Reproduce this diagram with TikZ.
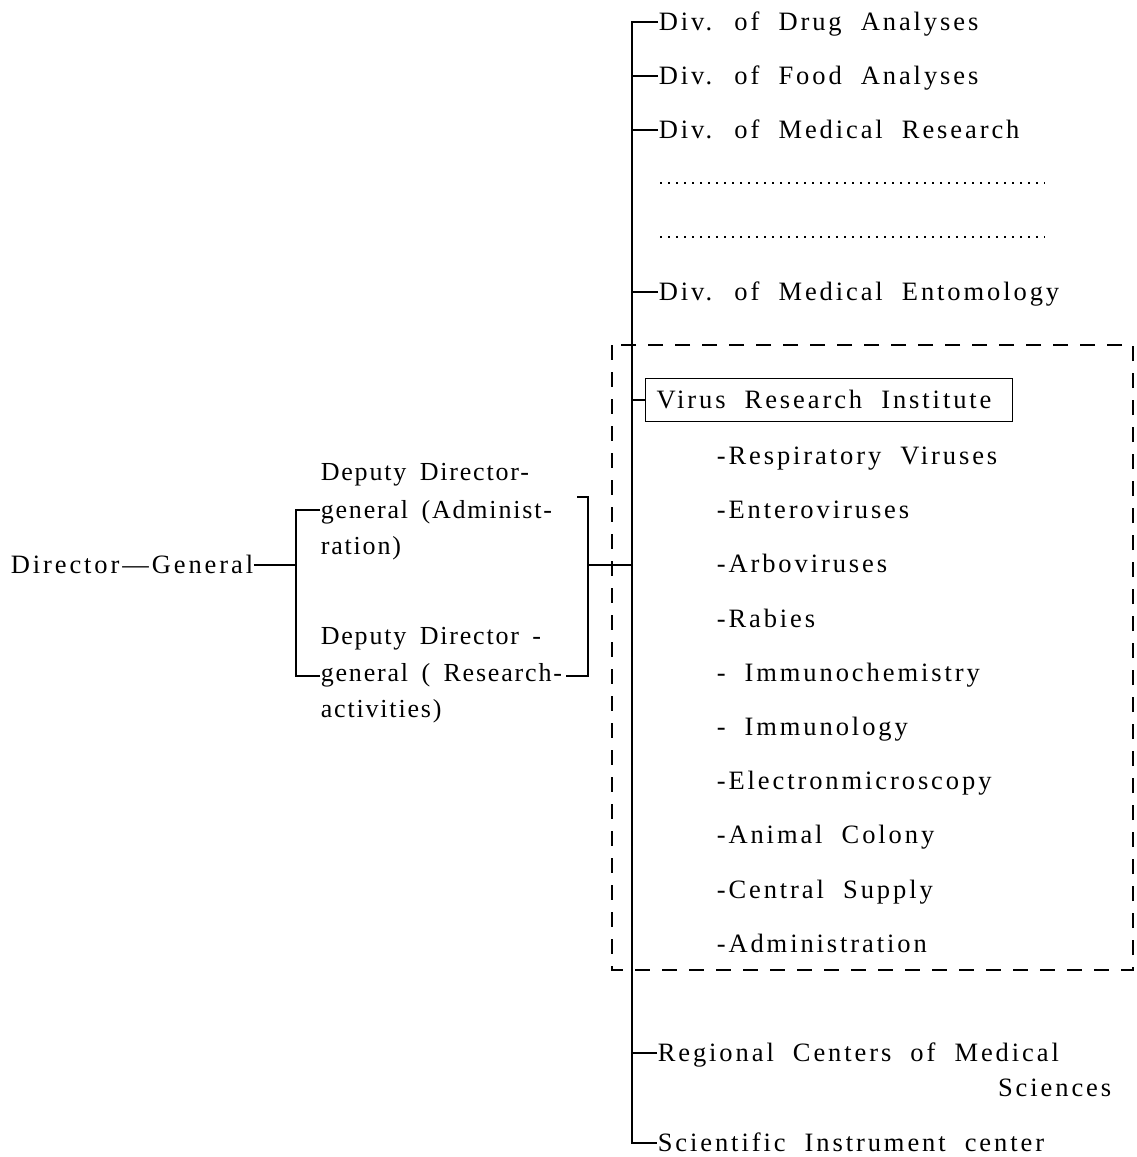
\documentclass[tikz,border=0pt]{standalone}
\usepackage{fontspec}
\setmainfont{Liberation Serif}[LetterSpace=11, WordSpace=2]
\newfontfamily\depfont{Liberation Serif}[LetterSpace=7, WordSpace=1.6]
\usepackage{tikz}
\tikzset{every picture/.append style={x=1pt, y=-1pt, line width=1.6pt}}
\tikzset{
    lbl/.style={anchor=west, inner sep=0pt, font=\fontsize{26.5}{37}\selectfont,
        text height=17pt, text depth=0pt},
    dep/.style={lbl, font=\depfont\fontsize{26}{37}\selectfont},
    boxed/.style={lbl, draw, line width=1.4pt, inner xsep=11pt, inner ysep=13pt},
    dashbox/.style={dashed, line width=1.5pt, dash pattern=on 15pt off 12pt},
    leader/.style={line width=2.4pt, dash pattern=on 2pt off 6pt}
}

\begin{document}
\begin{tikzpicture}
  \useasboundingbox (0,0) rectangle (1136,1157);
  % left side
  \node (dg) [lbl] at (10, 565) {Director---General};
  \node (dep_a1) [dep] at (320, 472) {Deputy Director-};
  \node (dep_a2) [dep] at (320, 510) {general (Administ-};
  \node (dep_a3) [dep] at (320, 546) {ration)};
  \node (dep_r1) [dep] at (320, 636) {Deputy Director -};
  \node (dep_r2) [dep] at (320, 673) {general ( Research-};
  \node (dep_r3) [dep] at (320, 709) {activities)};
  \coordinate (l_top) at (296, 510);
  \coordinate (l_bot) at (296, 676);
  \coordinate (l_mid) at (296, 565);
  \coordinate (r_ta) at (577, 497);
  \coordinate (r_top) at (588, 497);
  \coordinate (r_bot) at (588, 676);
  \coordinate (r_ba) at (566, 676);
  \coordinate (r_mid) at (588, 565);

  % divisions
  \node (drug) [lbl] at (658, 22) {Div. of Drug Analyses};
  \node (food) [lbl] at (658, 76) {Div. of Food Analyses};
  \node (medr) [lbl] at (658, 130) {Div. of Medical Research};
  \node (ento) [lbl] at (658, 292) {Div. of Medical Entomology};
  \node (vri) [boxed] at (645, 400) {Virus Research Institute\hspace*{10pt}};
  \node (reg) [lbl] at (657, 1053) {Regional Centers of Medical};
  \node (reg2) [lbl, anchor=east] at (1112, 1088) {Sciences};
  \node (sci) [lbl] at (657, 1143) {Scientific Instrument center};
  \coordinate (top) at (632, 22);
  \coordinate (bot) at (632, 1143);
  \coordinate (dots1a) at (660, 183);
  \coordinate (dots1b) at (1045, 183);
  \coordinate (dots2a) at (660, 237);
  \coordinate (dots2b) at (1045, 237);

  % sections of the institute
  \node (resp) [lbl] at (716, 456) {-Respiratory Viruses};
  \node (ente) [lbl] at (716, 510) {-Enteroviruses};
  \node (arbo) [lbl] at (716, 564) {-Arboviruses};
  \node (rab) [lbl] at (716, 619) {-Rabies};
  \node (imch) [lbl] at (716, 673) {- Immunochemistry};
  \node (imm) [lbl] at (716, 727) {- Immunology};
  \node (elec) [lbl] at (716, 781) {-Electronmicroscopy};
  \node (anim) [lbl] at (716, 835) {-Animal Colony};
  \node (cent) [lbl] at (716, 890) {-Central Supply};
  \node (adm) [lbl] at (716, 944) {-Administration};

  \draw[dashbox] (612, 345) rectangle (1133, 970);

  \draw (dg.east) -- (l_mid);
  \draw (dep_a2.west) -- (l_top) -- (l_bot) -- (dep_r2.west |- l_bot);
  \draw (r_ta) -- (r_top) -- (r_bot) -- (r_ba);
  \draw (r_mid) -- (r_mid -| top);
  \draw (drug.west) -- (top) -- (bot) -- (sci.west);
  \draw (food.west) -- (food.west -| top);
  \draw (medr.west) -- (medr.west -| top);
  \draw (ento.west) -- (ento.west -| top);
  \draw (vri.west) -- (vri.west -| top);
  \draw (reg.west) -- (reg.west -| top);
  \draw[leader] (dots1a) -- (dots1b);
  \draw[leader] (dots2a) -- (dots2b);
\end{tikzpicture}
\end{document}
